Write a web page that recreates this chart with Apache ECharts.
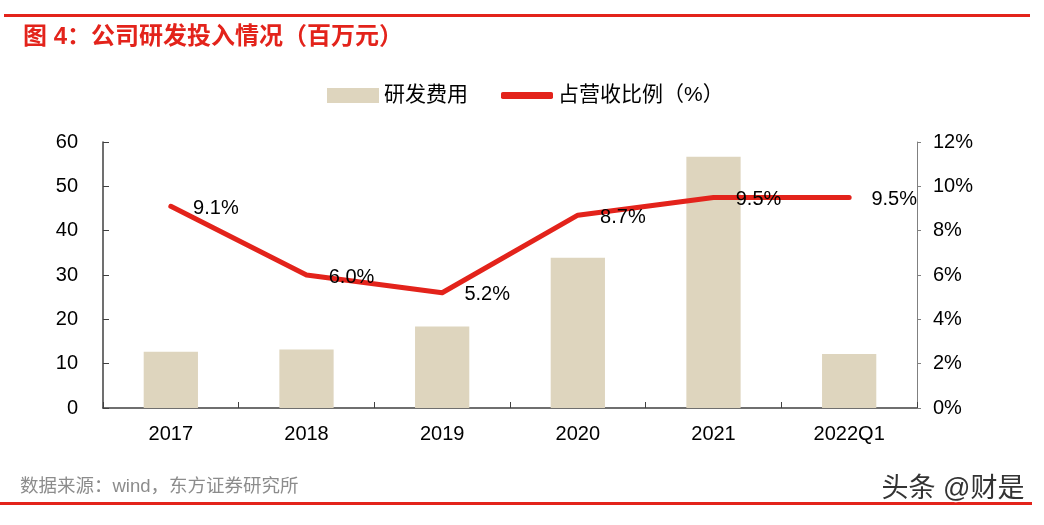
<!DOCTYPE html>
<html><head><meta charset="utf-8">
<script src="https://cdn.jsdelivr.net/npm/echarts@6/dist/echarts.min.js"></script>
<style>html,body{margin:0;padding:0;background:#fff}#c{width:1044px;height:525px}</style>
</head><body><div id="c"></div>
<script>
var categories = ['2017', '2018', '2019', '2020', '2021', '2022Q1'];
var rdExpense = [12.7, 13.2, 18.4, 33.9, 56.7, 12.2];
var rdRatio = [9.1, 6.0, 5.2, 8.7, 9.5, 9.5];
var leftTicks = [0, 10, 20, 30, 40, 50, 60];
var rightTicks = [0, 2, 4, 6, 8, 10, 12];

var FONT = '"Liberation Sans", Arial, "Noto Sans CJK SC", sans-serif';
var chart = echarts.init(document.getElementById('c'), null, {renderer: 'canvas'});
chart.setOption({
  animation: false,
  backgroundColor: '#fff',
  textStyle: {fontFamily: FONT},
  title: {
    text: '图 4：公司研发投入情况（百万元）',
    left: 18, top: 20,
    textStyle: {color: '#E3231B', fontSize: 24, fontWeight: 'bold', fontFamily: FONT}
  },
  graphic: [
    {type: 'rect', shape: {x: 4, y: 14, width: 1026, height: 3}, style: {fill: '#E3231B'}},
    {type: 'rect', shape: {x: 0, y: 502, width: 1032, height: 3}, style: {fill: '#E3231B'}},
    {type: 'text', left: 20, top: 478, style: {text: '数据来源：wind，东方证券研究所', fill: '#8c8c8c', fontSize: 18.5, fontFamily: FONT}},
    {type: 'text', left: 880, top: 475, z: 10, style: {text: '头条 @财是', fill: '#333', fontSize: 27, fontFamily: FONT, stroke: '#fff', lineWidth: 3}}
  ],
  legend: [
    {data: ['研发费用'], left: 322, top: 80, itemWidth: 52, itemHeight: 15, itemGap: 6,
     textStyle: {fontSize: 21, color: '#000', fontFamily: FONT}, icon: 'rect'},
    {data: ['占营收比例（%）'], left: 496, top: 80, itemWidth: 52, itemHeight: 7,
     textStyle: {fontSize: 21, color: '#000', fontFamily: FONT}, icon: 'roundRect'}
  ],
  grid: {left: 103, right: 127, top: 142, bottom: 117, containLabel: false},
  xAxis: {
    type: 'category', data: categories,
    axisLine: {lineStyle: {color: '#404040', width: 1.5}},
    axisTick: {show: true, inside: true, length: 6, lineStyle: {color: '#404040'}},
    axisLabel: {fontSize: 20, color: '#000', margin: 16}
  },
  yAxis: [
    {type: 'value', min: 0, max: 60, interval: 10,
     axisLine: {show: true, lineStyle: {color: '#404040', width: 1.5}},
     axisTick: {show: true, inside: true, length: 6, lineStyle: {color: '#404040'}},
     splitLine: {show: false},
     axisLabel: {fontSize: 20, color: '#000', margin: 25,
       formatter: function (v) { return leftTicks.indexOf(v) >= 0 ? String(v) : ''; }}},
    {type: 'value', min: 0, max: 12, interval: 2, position: 'right',
     axisLine: {show: true, lineStyle: {color: '#808080', width: 1}},
     axisTick: {show: true, inside: false, length: 4, lineStyle: {color: '#808080'}},
     splitLine: {show: false},
     axisLabel: {fontSize: 20, color: '#000', margin: 16,
       formatter: function (v) { return rightTicks.indexOf(v) >= 0 ? v + '%' : ''; }}}
  ],
  series: [
    {name: '研发费用', type: 'bar', data: rdExpense, barWidth: '40%',
     itemStyle: {color: '#DED5BE'}},
    {name: '占营收比例（%）', type: 'line', yAxisIndex: 1, data: rdRatio,
     symbol: 'circle', symbolSize: 0.5, showSymbol: true,
     lineStyle: {color: '#E3231B', width: 5, cap: 'round', join: 'round'},
     itemStyle: {color: '#E3231B'},
     label: {show: true, position: 'right', distance: 22, offset: [0, 2],
       fontSize: 20, color: '#000',
       formatter: function (p) { return p.value.toFixed(1) + '%'; }}}
  ]
});
</script></body></html>
